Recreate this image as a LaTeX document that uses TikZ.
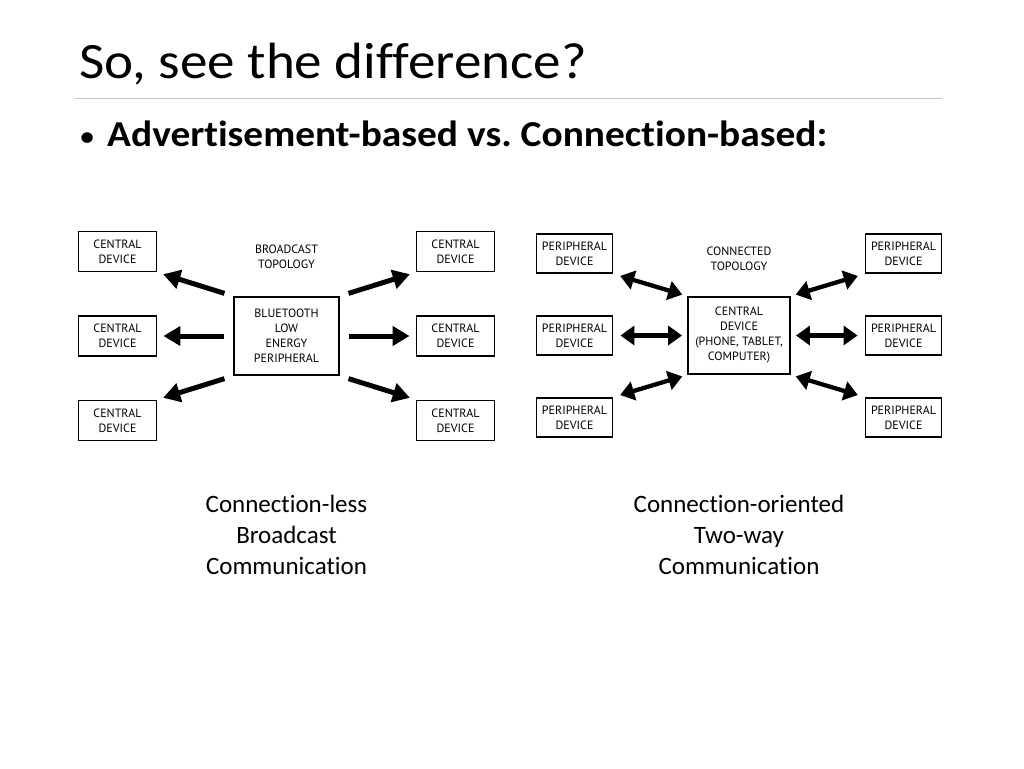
\documentclass[tikz,border=0pt]{standalone}
\usepackage{fontspec}
\setmainfont{Carlito}[Ligatures=NoCommon]
\newfontfamily\headfont{Carlito}[FakeStretch=1.08, Ligatures=NoCommon]
\newfontfamily\boxfont{PT Sans}
\usetikzlibrary{arrows.meta}
\frenchspacing
\tikzset{node distance=169pt, auto}
\tikzset{
  devbox/.style={draw, line width=1.9pt, minimum width=78pt, minimum height=40pt,
    inner sep=0pt, align=center, font=\boxfont\fontsize{12}{15}\selectfont},
  hubbox/.style={devbox, minimum width=105pt, minimum height=78pt},
  topo/.style={align=center, font=\boxfont\fontsize{12}{15}\selectfont},
  caption/.style={align=center, font=\fontsize{25}{31}\selectfont},
  oneway/.style={line width=5pt, -{Triangle[length=17pt,width=19pt]},
    shorten <=9pt, shorten >=6pt},
  twoway/.style={line width=4.3pt,
    {Triangle[length=14pt,width=19pt]}-{Triangle[length=14pt,width=19pt]},
    shorten <=7pt, shorten >=5pt},
}

\begin{document}
\begin{tikzpicture}[x=1pt,y=-1pt]
  \useasboundingbox (0,0) rectangle (1024,768);

  % heading
  \node[anchor=base west, inner sep=0pt, font=\headfont\fontsize{51}{60}\selectfont]
    (title) at (79,78) {So, see the difference?};
  \draw[black!22, line width=1pt] (75,98) -- (942,98);
  \node[anchor=base west, inner sep=0pt, font=\headfont\bfseries\fontsize{36.5}{44}\selectfont]
    (bullet) at (107,146)
    {\llap{{\mdseries\fontsize{30}{30}\selectfont\textbullet}\hspace{12pt}}Advertisement-based vs. Connection-based:};

  % broadcast topology
  \node[hubbox] (ble) at (286.5,336) {BLUETOOTH\\LOW\\ENERGY\\PERIPHERAL};
  \node[devbox] (lc2) [left of=ble]  {CENTRAL\\DEVICE};
  \node[devbox] (rc2) [right of=ble] {CENTRAL\\DEVICE};
  \node[devbox] (lc1) [node distance=84.5pt, above of=lc2] {CENTRAL\\DEVICE};
  \node[devbox] (lc3) [node distance=84.5pt, below of=lc2] {CENTRAL\\DEVICE};
  \node[devbox] (rc1) [node distance=84.5pt, above of=rc2] {CENTRAL\\DEVICE};
  \node[devbox] (rc3) [node distance=84.5pt, below of=rc2] {CENTRAL\\DEVICE};
  \node[topo] (bctopo) [node distance=79pt, above of=ble] {BROADCAST\\TOPOLOGY};

  \draw[oneway] (ble.north west) -- (lc1.south east);
  \draw[oneway] (ble.west)       -- (lc2.east);
  \draw[oneway] (ble.south west) -- (lc3.north east);
  \draw[oneway] (ble.north east) -- (rc1.south west);
  \draw[oneway] (ble.east)       -- (rc2.west);
  \draw[oneway] (ble.south east) -- (rc3.north west);

  \node[caption] (bccap) [node distance=199pt, below of=ble]
    {Connection-less\\Broadcast\\Communication};

  % connected topology
  \node[hubbox, minimum width=102pt, minimum height=77pt] (hub) at (739,335.5)
    {CENTRAL\\DEVICE\\(PHONE, TABLET,\\COMPUTER)};
  \node[devbox, minimum width=76pt, minimum height=39pt] (lp2) [node distance=164.5pt, left of=hub]  {PERIPHERAL\\DEVICE};
  \node[devbox, minimum width=76pt, minimum height=39pt] (rp2) [node distance=164.5pt, right of=hub] {PERIPHERAL\\DEVICE};
  \node[devbox, minimum width=76pt, minimum height=39pt] (lp1) [node distance=82pt, above of=lp2] {PERIPHERAL\\DEVICE};
  \node[devbox, minimum width=76pt, minimum height=39pt] (lp3) [node distance=82pt, below of=lp2] {PERIPHERAL\\DEVICE};
  \node[devbox, minimum width=76pt, minimum height=39pt] (rp1) [node distance=82pt, above of=rp2] {PERIPHERAL\\DEVICE};
  \node[devbox, minimum width=76pt, minimum height=39pt] (rp3) [node distance=82pt, below of=rp2] {PERIPHERAL\\DEVICE};
  \node[topo] (cntopo) [node distance=76.5pt, above of=hub] {CONNECTED\\TOPOLOGY};

  \draw[twoway] (lp1.south east) -- (hub.north west);
  \draw[twoway] (lp2.east)       -- (hub.west);
  \draw[twoway] (lp3.north east) -- (hub.south west);
  \draw[twoway] (rp1.south west) -- (hub.north east);
  \draw[twoway] (rp2.west)       -- (hub.east);
  \draw[twoway] (rp3.north west) -- (hub.south east);

  \node[caption] (cncap) [node distance=199.5pt, below of=hub]
    {Connection-oriented\\Two-way\\Communication};
\end{tikzpicture}
\end{document}
